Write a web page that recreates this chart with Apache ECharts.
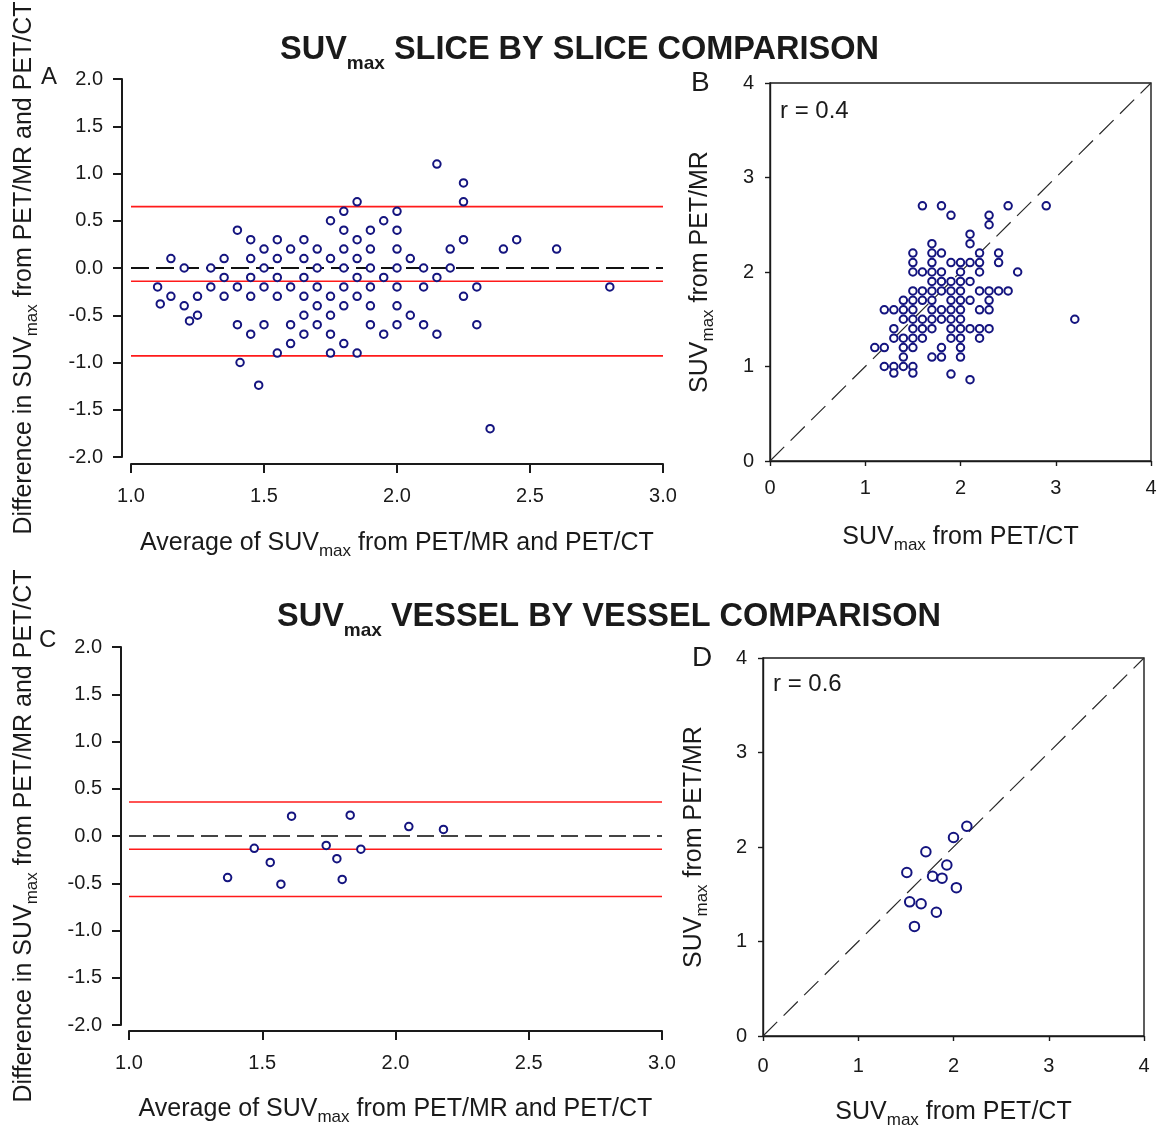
<!DOCTYPE html>
<html><head><meta charset="utf-8">
<script src="https://cdn.jsdelivr.net/npm/echarts@6/dist/echarts.min.js"></script>
<style>html,body{margin:0;padding:0;background:#fff}#c{width:1159px;height:1130px}</style>
</head><body><div id="c"></div>
<script>
// ---------- Panel A: slice-by-slice Bland-Altman ----------
const sliceAvg = [
  1.10,
  1.11,
  1.15,1.15,
  1.20,1.20,
  1.22,
  1.25,1.25,
  1.30,1.30,
  1.35,1.35,1.35,
  1.40,1.40,1.40,
  1.41,
  1.45,1.45,1.45,1.45,1.45,
  1.48,
  1.50,1.50,1.50,1.50,
  1.55,1.55,1.55,1.55,1.55,
  1.60,1.60,1.60,1.60,
  1.65,1.65,1.65,1.65,1.65,1.65,
  1.70,1.70,1.70,1.70,1.70,
  1.75,1.75,1.75,1.75,1.75,1.75,
  1.80,1.80,1.80,1.80,1.80,1.80,1.80,
  1.85,1.85,1.85,1.85,1.85,1.85,
  1.90,1.90,1.90,1.90,1.90,1.90,
  1.95,1.95,1.95,
  2.00,2.00,2.00,2.00,2.00,2.00,2.00,
  2.05,2.05,
  2.10,2.10,2.10,
  2.15,2.15,2.15,
  2.20,2.20,
  2.25,2.25,2.25,2.25,
  2.30,2.30,
  2.35,
  2.40,
  2.45,
  2.60,
  2.80
];
const sliceDiff = [
  -0.2,
  -0.38,
  0.1,-0.3,
  0,-0.4,
  -0.56,
  -0.3,-0.5,
  0,-0.2,
  0.1,-0.1,-0.3,
  0.4,-0.2,-0.6,
  -1.0,
  0.3,0.1,-0.1,-0.3,-0.7,
  -1.24,
  0.2,0,-0.2,-0.6,
  0.3,0.1,-0.1,-0.3,-0.9,
  0.2,-0.2,-0.6,-0.8,
  0.3,0.1,-0.1,-0.3,-0.5,-0.7,
  0.2,0,-0.2,-0.4,-0.6,
  0.5,0.1,-0.3,-0.5,-0.7,-0.9,
  0.6,0.4,0.2,0,-0.2,-0.4,-0.8,
  0.7,0.3,0.1,-0.1,-0.3,-0.9,
  0.4,0.2,0,-0.2,-0.4,-0.6,
  0.5,-0.1,-0.7,
  0.6,0.4,0.2,0,-0.2,-0.4,-0.6,
  0.1,-0.5,
  0,-0.2,-0.6,
  1.1,-0.1,-0.7,
  0.2,0,
  0.9,0.7,0.3,-0.3,
  -0.2,-0.6,
  -1.7,
  0.2,
  0.3,
  0.2,
  -0.2
];
const sliceLimits = [0.65, -0.14, -0.93];   // upper LoA, mean bias, lower LoA

// ---------- Panel B: slice-by-slice scatter ----------
const slicePetCt = [
  1.6,1.8,2.5,2.9,
  1.9,2.3,
  2.3,
  2.1,
  1.7,2.1,
  1.5,1.7,1.8,2.2,2.4,
  1.5,1.7,1.9,2.0,2.1,2.2,2.4,
  1.5,1.6,1.7,1.8,2.0,2.2,2.6,
  1.7,1.8,1.9,2.0,2.1,
  1.5,1.6,1.7,1.8,1.9,2.0,2.2,2.3,2.4,2.5,
  1.4,1.5,1.6,1.7,1.9,2.0,2.1,2.3,
  1.2,1.3,1.4,1.5,1.7,1.8,1.9,2.0,2.2,2.3,
  1.4,1.5,1.6,1.7,1.8,1.9,2.0,3.2,
  1.3,1.5,1.6,1.7,1.9,2.0,2.1,2.2,2.3,
  1.3,1.4,1.5,1.6,1.9,2.0,2.2,
  1.1,1.2,1.4,1.5,1.8,2.0,
  1.4,1.7,1.8,2.0,
  1.2,1.3,1.4,1.5,
  1.3,1.5,
  1.9,
  2.1
];
const slicePetMr = [
  2.7,2.7,2.7,2.7,
  2.6,2.6,
  2.5,
  2.4,
  2.3,2.3,
  2.2,2.2,2.2,2.2,2.2,
  2.1,2.1,2.1,2.1,2.1,2.1,2.1,
  2.0,2.0,2.0,2.0,2.0,2.0,2.0,
  1.9,1.9,1.9,1.9,1.9,
  1.8,1.8,1.8,1.8,1.8,1.8,1.8,1.8,1.8,1.8,
  1.7,1.7,1.7,1.7,1.7,1.7,1.7,1.7,
  1.6,1.6,1.6,1.6,1.6,1.6,1.6,1.6,1.6,1.6,
  1.5,1.5,1.5,1.5,1.5,1.5,1.5,1.5,
  1.4,1.4,1.4,1.4,1.4,1.4,1.4,1.4,1.4,
  1.3,1.3,1.3,1.3,1.3,1.3,1.3,
  1.2,1.2,1.2,1.2,1.2,1.2,
  1.1,1.1,1.1,1.1,
  1.0,1.0,1.0,1.0,
  0.93,0.93,
  0.92,
  0.86
];
const sliceR = 'r = 0.4';

// ---------- Panel C: vessel-by-vessel Bland-Altman ----------
const vesselAvg  = [1.37, 1.47, 1.53, 1.57, 1.61, 1.74, 1.78, 1.80, 1.83, 1.87, 2.05, 2.18];
const vesselDiff = [-0.44, -0.13, -0.28, -0.51, 0.21, -0.10, -0.24, -0.46, 0.22, -0.14, 0.10, 0.07];
const vesselLimits = [0.36, -0.14, -0.64];

// ---------- Panel D: vessel-by-vessel scatter ----------
const vesselPetCt = [2.14, 2.00, 1.71, 1.93, 1.51, 1.78, 1.88, 2.03, 1.54, 1.66, 1.82, 1.59];
const vesselPetMr = [2.22, 2.10, 1.95, 1.81, 1.73, 1.69, 1.67, 1.57, 1.42, 1.40, 1.31, 1.16];
const vesselR = 'r = 0.6';

// ---------- axis ranges / ticks ----------
const baX = {min: 1, max: 3, interval: 0.5};
const baY = {min: -2, max: 2, interval: 0.5};
const scRange = {min: 0, max: 4, interval: 1};

const titleSlice = 'SUV{s|max} SLICE BY SLICE COMPARISON';
const titleVessel = 'SUV{s|max} VESSEL BY VESSEL COMPARISON';
const nameBAx = 'Average of SUV{s|max} from PET/MR and PET/CT';
const nameBAy = 'Difference in SUV{s|max} from PET/MR and PET/CT';
const nameScX = 'SUV{s|max} from PET/CT';
const nameScY = 'SUV{s|max} from PET/MR';

// ---------- styling ----------
const FONT = 'Liberation Sans, Arial, Helvetica, sans-serif';
const INK = '#1a1a1a';
const NAVY = '#14147f';
const RED = '#ff1a1a';

function nameStyle() {
  return {fontFamily: FONT, fontSize: 25, color: INK, lineHeight: 33,
    rich: {s: {fontFamily: FONT, fontSize: 17, color: INK, verticalAlign: 'bottom', lineHeight: 17}}};
}
function baXAxis(grid, offset, margin, gap) {
  return {gridIndex: grid, type: 'value', min: baX.min, max: baX.max, interval: baX.interval, offset: offset,
    axisLine: {show: true, onZero: false, lineStyle: {color: INK, width: 2}},
    axisTick: {show: true, inside: false, length: 9, lineStyle: {color: INK, width: 2}},
    axisLabel: {margin: margin, fontSize: 20, fontFamily: FONT, color: INK, formatter: v => v.toFixed(1),
      showMinLabel: true, showMaxLabel: true, hideOverlap: false},
    splitLine: {show: false},
    name: nameBAx, nameLocation: 'middle', nameGap: gap, nameTextStyle: nameStyle()};
}
function baYAxis(grid, offset, gap) {
  return {gridIndex: grid, type: 'value', min: baY.min, max: baY.max, interval: baY.interval, offset: offset,
    axisLine: {show: true, onZero: false, lineStyle: {color: INK, width: 2}},
    axisTick: {show: true, inside: false, length: 9, lineStyle: {color: INK, width: 2}},
    axisLabel: {margin: 19, fontSize: 20, fontFamily: FONT, color: INK, formatter: v => v.toFixed(1),
      showMinLabel: true, showMaxLabel: true, hideOverlap: false},
    splitLine: {show: false},
    name: nameBAy, nameLocation: 'middle', nameGap: gap, nameTextStyle: nameStyle()};
}
function scAxis(grid, isX, margin, gap) {
  return {gridIndex: grid, type: 'value', min: scRange.min, max: scRange.max, interval: scRange.interval,
    axisLine: {show: true, onZero: false, lineStyle: {color: INK, width: 1.4}},
    axisTick: {show: true, inside: false, length: 5, lineStyle: {color: INK, width: 1.4}},
    axisLabel: {margin: margin, fontSize: 20, fontFamily: FONT, color: INK,
      showMinLabel: true, showMaxLabel: true, hideOverlap: false},
    splitLine: {show: false},
    name: isX ? nameScX : nameScY, nameLocation: 'middle', nameGap: gap, nameTextStyle: nameStyle()};
}
function scatter(xi, xs, ys, size, bw) {
  return {type: 'scatter', xAxisIndex: xi, yAxisIndex: xi, z: 5,
    data: xs.map((x, i) => [x, ys[i]]),
    symbol: 'emptyCircle', symbolSize: size,
    itemStyle: {color: NAVY, borderColor: NAVY, borderWidth: bw, opacity: 1},
    emphasis: {disabled: true}, silent: true};
}
function hline(xi, y, x0, x1, color, width, dash) {
  return {type: 'line', xAxisIndex: xi, yAxisIndex: xi, z: 2, silent: true,
    data: [[x0, y], [x1, y]], symbol: 'none',
    lineStyle: {color: color, width: width, type: dash || 'solid'}};
}
function identity(xi) {
  return {type: 'line', xAxisIndex: xi, yAxisIndex: xi, z: 2, silent: true,
    data: [[scRange.min, scRange.min], [scRange.max, scRange.max]], symbol: 'none',
    lineStyle: {color: '#2a2a2a', width: 1.2, type: [20, 9]}};
}
function titleStyle() {
  return {fontFamily: FONT, fontSize: 32.5, fontWeight: 'bold', color: INK, lineHeight: 46,
    rich: {s: {fontFamily: FONT, fontSize: 19, fontWeight: 'bold', color: INK, verticalAlign: 'bottom', lineHeight: 19}}};
}
function label(text, x, y, size) {
  return {type: 'text', x: x, y: y, silent: true,
    style: {text: text, fill: INK, font: size + 'px ' + FONT,
      textVerticalAlign: 'middle', verticalAlign: 'middle', textAlign: 'left', align: 'left'}};
}

const chart = echarts.init(document.getElementById('c'), null, {renderer: 'canvas'});
chart.setOption({
  animation: false,
  backgroundColor: '#ffffff',
  title: [
    {text: titleSlice, left: 280, top: 27, padding: 0, textStyle: titleStyle()},
    {text: titleVessel, left: 277, top: 594, padding: 0, textStyle: titleStyle()}
  ],
  grid: [
    {left: 131, top: 79, width: 532, height: 378, outerBoundsMode: 'none'},
    {left: 770, top: 83, width: 381, height: 378, show: true, borderColor: INK, borderWidth: 1.4, backgroundColor: 'transparent', outerBoundsMode: 'none'},
    {left: 129, top: 647, width: 533, height: 378, outerBoundsMode: 'none'},
    {left: 763, top: 658, width: 381, height: 378, show: true, borderColor: INK, borderWidth: 1.4, backgroundColor: 'transparent', outerBoundsMode: 'none'}
  ],
  xAxis: [
    baXAxis(0, 7, 22, 63),
    scAxis(1, true, 17, 60),
    baXAxis(2, 6, 22, 62),
    scAxis(3, true, 20, 60)
  ],
  yAxis: [
    baYAxis(0, 9, 81),
    scAxis(1, false, 16, 53),
    baYAxis(2, 8, 80),
    scAxis(3, false, 16, 52)
  ],
  series: [
    hline(0, 0, baX.min, baX.max, '#111', 2, [18, 7]),
    hline(0, sliceLimits[0], baX.min, baX.max, RED, 1.6),
    hline(0, sliceLimits[1], baX.min, baX.max, RED, 1.6),
    hline(0, sliceLimits[2], baX.min, baX.max, RED, 1.6),
    scatter(0, sliceAvg, sliceDiff, 7.5, 1.9),
    identity(1),
    scatter(1, slicePetCt, slicePetMr, 7.5, 1.5),
    hline(2, 0, baX.min, baX.max, '#444', 1.8, [17, 7]),
    hline(2, vesselLimits[0], baX.min, baX.max, RED, 1.5),
    hline(2, vesselLimits[1], baX.min, baX.max, RED, 1.5),
    hline(2, vesselLimits[2], baX.min, baX.max, RED, 1.5),
    scatter(2, vesselAvg, vesselDiff, 7.5, 1.5),
    identity(3),
    scatter(3, vesselPetCt, vesselPetMr, 9.5, 1.5)
  ],
  graphic: [
    label('A', 41, 77, 24),
    label('B', 691, 83, 28),
    label('C', 39, 640, 24),
    label('D', 692, 658, 28),
    label(sliceR, 780, 111, 24),
    label(vesselR, 773, 684, 24)
  ]
});
</script>
</body></html>
